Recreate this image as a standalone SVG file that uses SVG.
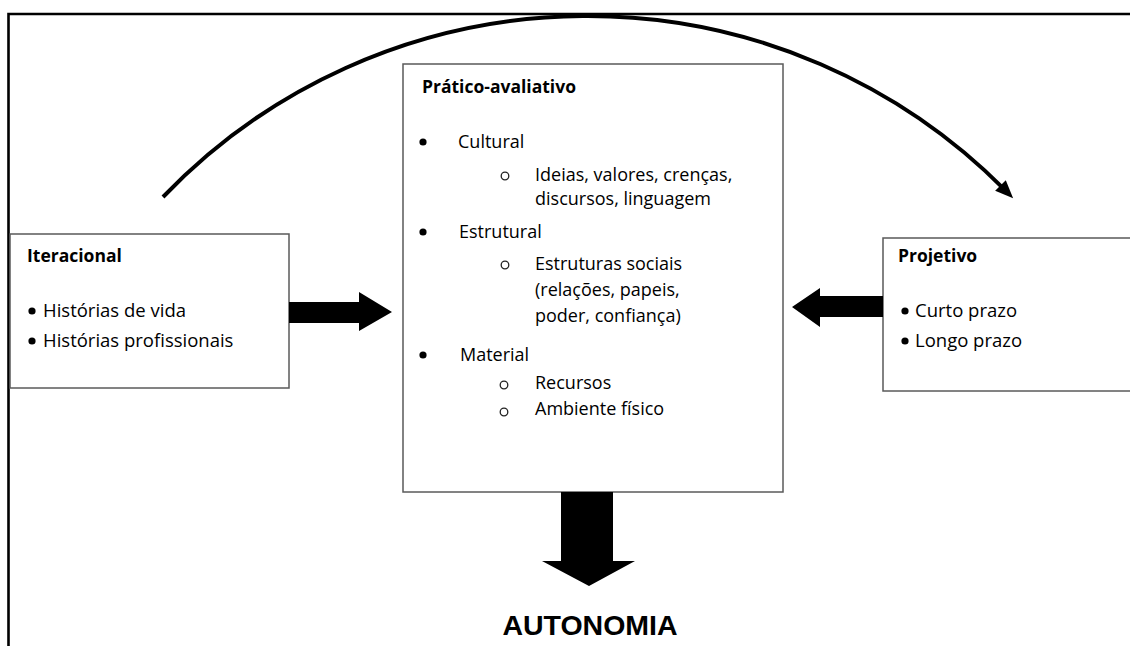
<svg xmlns="http://www.w3.org/2000/svg" width="1130" height="646" viewBox="0 0 1130 646">
  <style>
    .box { fill: #ffffff; stroke: #5a5a5a; stroke-width: 1.5; }
    .t { font-family: "Open Sans", "Liberation Sans", sans-serif; font-size: 18px; fill: #000; }
    .ts { font-family: "Open Sans", "Liberation Sans", sans-serif; font-size: 18.5px; fill: #000; }
    .h { font-family: "Open Sans", "Liberation Sans", sans-serif; font-size: 17.5px; font-weight: bold; fill: #000; }
    .big { font-family: "Liberation Sans", Arial, sans-serif; font-size: 28.5px; font-weight: bold; fill: #000; }
    .dot { fill: #000; }
    .ring { fill: none; stroke: #222; stroke-width: 1.3; }
    .block { fill: #000; }
    .arc { fill: none; stroke: #000; stroke-width: 4; }
  </style>
  <defs>
    <marker id="head" markerUnits="userSpaceOnUse" markerWidth="20" markerHeight="16" refX="7" refY="7.5" orient="auto">
      <path d="M0,0 L18,7.5 L0,15 Z" fill="#000"/>
    </marker>
  </defs>
  <rect x="0" y="0" width="1130" height="646" fill="#ffffff"/>
  <g id="frame">
    <path d="M8.5,646 V14 H1130" fill="none" stroke="#000" stroke-width="2.6"/>
  </g>
  <g id="node-iteracional">
    <rect class="box" x="10" y="234" width="279" height="154"/>
    <text class="h" x="27" y="262">Iteracional</text>
    <circle class="dot" cx="32" cy="311" r="3.6"/>
    <text class="ts" x="43" y="317">Histórias de vida</text>
    <circle class="dot" cx="32" cy="341" r="3.6"/>
    <text class="ts" x="43" y="347">Histórias profissionais</text>
  </g>
  <g id="node-pratico">
    <rect class="box" x="403" y="64" width="380" height="428"/>
    <text class="h" x="422" y="93">Prático-avaliativo</text>
    <circle class="dot" cx="423" cy="142" r="3.6"/>
    <text class="t" x="458" y="148">Cultural</text>
    <circle class="ring" cx="505" cy="176" r="3.8"/>
    <text class="t" x="535" y="181">Ideias, valores, crenças,</text>
    <text class="t" x="535" y="205">discursos, linguagem</text>
    <circle class="dot" cx="423" cy="232" r="3.6"/>
    <text class="t" x="459" y="238">Estrutural</text>
    <circle class="ring" cx="505" cy="265" r="3.8"/>
    <text class="t" x="535" y="270">Estruturas sociais</text>
    <text class="t" x="535" y="296">(relações, papeis,</text>
    <text class="t" x="535" y="322">poder, confiança)</text>
    <circle class="dot" cx="423" cy="355" r="3.6"/>
    <text class="t" x="460" y="361">Material</text>
    <circle class="ring" cx="504" cy="385" r="3.8"/>
    <text class="t" x="535" y="389">Recursos</text>
    <circle class="ring" cx="504" cy="412" r="3.8"/>
    <text class="t" x="535" y="415">Ambiente físico</text>
  </g>
  <g id="node-projetivo">
    <rect class="box" x="883" y="238" width="260" height="153"/>
    <text class="h" x="898" y="262">Projetivo</text>
    <circle class="dot" cx="905" cy="311" r="3.6"/>
    <text class="ts" x="915" y="317">Curto prazo</text>
    <circle class="dot" cx="905" cy="341" r="3.6"/>
    <text class="ts" x="915" y="347">Longo prazo</text>
  </g>
  <g id="node-autonomia">
    <text class="big" x="590" y="635" text-anchor="middle">AUTONOMIA</text>
  </g>
  <g id="connectors">
    <path class="arc" d="M163,197 A588,588 0 0 1 1005.4,190.4" marker-end="url(#head)"/>
    <path class="block" d="M289,302 H359 V292 L392,312 L359,331 V323 H289 Z"/>
    <path class="block" d="M883,296 H820 V288 L792,307 L820,327 V317 H883 Z"/>
    <path class="block" d="M561,492 V561 H542 L589,586 L635,561 H613 V492 Z"/>
  </g>
</svg>
